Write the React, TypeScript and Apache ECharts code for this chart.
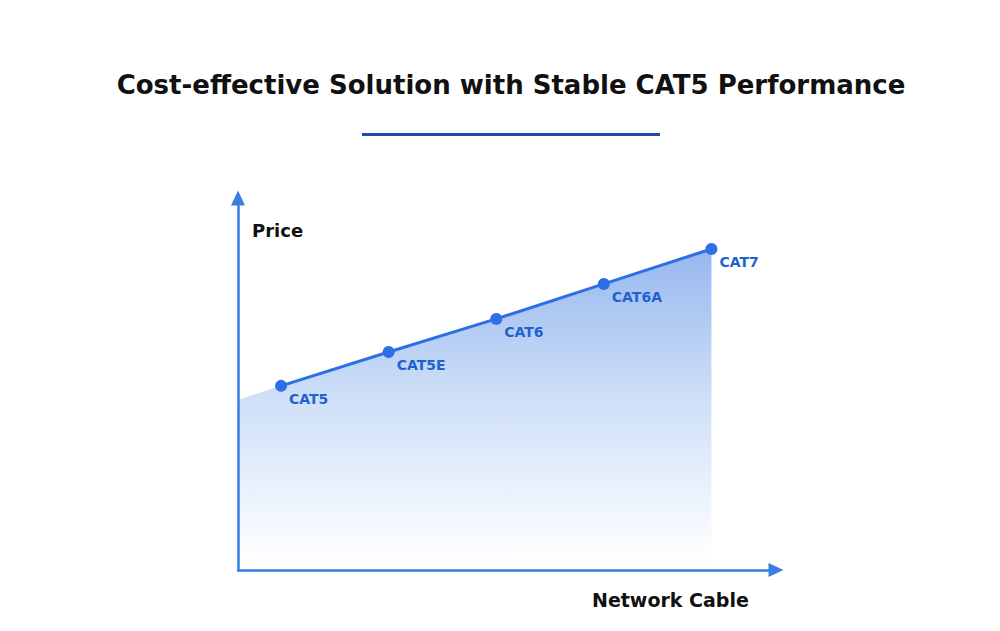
import React, { useEffect, useRef } from "react";
import * as echarts from "echarts";

const categories = ["CAT5", "CAT5E", "CAT6", "CAT6A", "CAT7"];
const xPositions = [1, 2, 3, 4, 5];
const prices = [49.5, 58.6, 67.5, 76.9, 86.3];
// area extends to the y-axis on the left
const areaStart = [0.6, 45.7];

const TITLE = "Cost-effective Solution with Stable CAT5 Performance";
const Y_NAME = "Price";
const X_NAME = "Network Cable";

export default function App() {
  const ref = useRef<HTMLDivElement>(null);
  useEffect(() => {
    const chart = echarts.init(ref.current!, null, { renderer: "svg" });
    const lineData = xPositions.map((x, i) => [x, prices[i]]);
    const areaData = [areaStart, ...lineData];
    chart.setOption({
      animation: false,
      backgroundColor: "#ffffff",
      grid: { left: 238, right: 224, top: 198, bottom: 61 },
      xAxis: {
        type: "value",
        min: 0.6,
        max: 5.6,
        z: 5,
        axisLine: {
          show: true,
          symbol: ["none", "triangle"],
          symbolSize: [14, 15],
          lineStyle: { color: "#3a7ee2", width: 2.5 },
        },
        axisTick: { show: false },
        axisLabel: { show: false },
        splitLine: { show: false },
      },
      yAxis: {
        type: "value",
        min: 0,
        max: 100,
        z: 5,
        axisLine: {
          show: true,
          symbol: ["none", "triangle"],
          symbolSize: [14, 15],
          lineStyle: { color: "#3a7ee2", width: 2.5 },
        },
        axisTick: { show: false },
        axisLabel: { show: false },
        splitLine: { show: false },
      },
      series: [
        {
          type: "line",
          data: areaData,
          showSymbol: false,
          symbol: "none",
          lineStyle: { width: 0 },
          areaStyle: {
            opacity: 1,
            color: new echarts.graphic.LinearGradient(0, 0, 0, 1, [
              { offset: 0, color: "#96b7ef" },
              { offset: 0.45, color: "#cddef7" },
              { offset: 0.92, color: "#fafcff" },
              { offset: 1, color: "#ffffff" },
            ]),
          },
          silent: true,
          z: 1,
        },
        {
          type: "line",
          data: lineData,
          symbol: "circle",
          symbolSize: 12,
          itemStyle: { color: "#2c6fe6" },
          lineStyle: { color: "#2c6fe6", width: 3 },
          label: {
            show: true,
            position: [14, 12],
            align: "left",
            verticalAlign: "top",
            formatter: (p: any) => categories[p.dataIndex],
            color: "#1f62cf",
            fontFamily: "DejaVu Sans",
            fontWeight: "bold",
            fontSize: 14,
          },
          z: 6,
        },
      ],
      graphic: [
        {
          type: "text",
          x: 511,
          y: 85,
          style: {
            text: TITLE,
            fontFamily: "DejaVu Sans",
            fontWeight: "bold",
            fontSize: 26,
            fill: "#111111",
            align: "center",
            verticalAlign: "middle",
          },
        },
        {
          type: "rect",
          shape: { x: 362, y: 133, width: 298, height: 3 },
          style: { fill: "#2348b0" },
        },
        {
          type: "text",
          x: 252,
          y: 230,
          style: {
            text: Y_NAME,
            fontFamily: "DejaVu Sans",
            fontWeight: "bold",
            fontSize: 18,
            fill: "#111111",
            verticalAlign: "middle",
          },
        },
        {
          type: "text",
          x: 592,
          y: 600,
          style: {
            text: X_NAME,
            fontFamily: "DejaVu Sans",
            fontWeight: "bold",
            fontSize: 19,
            fill: "#111111",
            verticalAlign: "middle",
          },
        },
      ],
    });
    return () => chart.dispose();
  }, []);
  return (
    <div
      ref={ref}
      style={{ position: "absolute", left: 0, top: 0, width: 1000, height: 631 }}
    />
  );
}
